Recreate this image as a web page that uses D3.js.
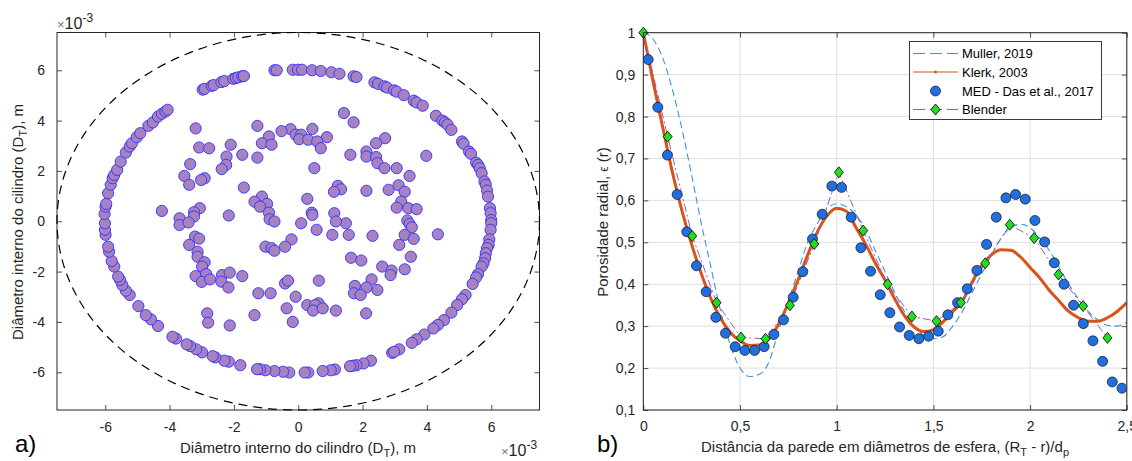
<!DOCTYPE html>
<html><head><meta charset="utf-8">
<script src="https://cdn.jsdelivr.net/npm/d3@7"></script>
<style>
html,body{margin:0;padding:0;background:#fff;}
svg{display:block;font-family:"Liberation Sans",Arial,Helvetica,sans-serif;}
</style></head>
<body>
<svg id="chart" width="1132" height="461"></svg>
<script>
// ---------------- DATA : panel a) (units of 1e-3 m) ----------------
const ringX = [-0.74,-0.67,-0.17,-0.01,0.12,0.43,0.70,1.03,1.28,1.72,1.81,
 -2.97,-2.91,-2.69,-2.63,-2.39,-2.30,-2.02,-1.94,-1.86,-1.74,-1.69,
 2.37,2.48,2.68,2.76,2.98,3.06,3.28,3.59,3.68,3.87,
 4.28,4.48,4.56,4.64,4.76,
 5.09,5.14,5.31,5.37,5.53,5.59,5.64,5.70,5.79,5.83,5.87,5.90,5.96,5.98,6.00,6.00,
 5.98,5.94,5.92,5.87,5.83,5.81,5.76,5.70,5.59,5.53,5.42,5.20,5.09,4.94,4.76,4.53,4.34,4.20,3.92,3.68,3.53,3.14,2.92,2.98,
 2.26,2.03,1.81,1.70,1.61,1.14,1.01,0.76,0.31,0.20,
 -0.28,-0.47,-0.74,-1.02,-1.19,-1.28,-1.80,-2.16,-2.30,-2.58,-2.66,-2.99,-3.17,-3.36,-3.47,-3.80,-3.91,
 -4.36,-4.58,-4.74,-4.97,-5.24,-5.36,-5.47,-5.54,-5.60,-5.72,-5.80,-5.88,-5.91,-5.99,-6.01,-6.01,-6.02,-5.99,-5.97,
 -5.91,-5.83,-5.77,-5.72,-5.63,-5.52,-5.36,-5.24,-5.17,-5.02,-4.91,-4.66,-4.52,-4.36,-4.24,-4.13,-4.06];
const ringY = [6.00,6.00,6.02,6.02,6.02,6.00,5.97,5.92,5.86,5.76,5.73,
 5.23,5.26,5.38,5.41,5.53,5.57,5.66,5.69,5.72,5.76,5.77,
 5.52,5.46,5.36,5.31,5.20,5.15,5.01,4.79,4.72,4.59,
 4.19,4.00,3.93,3.84,3.63,
 3.17,3.08,2.77,2.68,2.33,2.24,2.11,1.91,1.58,1.45,1.22,0.98,0.52,0.32,0.05,-0.08,
 -0.34,-0.72,-0.94,-1.07,-1.27,-1.47,-1.67,-1.80,-2.10,-2.23,-2.49,-2.93,-3.10,-3.33,-3.63,-3.93,-4.12,-4.26,-4.50,-4.69,-4.83,-5.09,-5.23,-5.19,
 -5.54,-5.65,-5.72,-5.74,-5.76,-5.89,-5.92,-5.95,-6.01,-6.01,
 -6.01,-5.98,-5.95,-5.92,-5.88,-5.88,-5.72,-5.58,-5.54,-5.41,-5.36,-5.21,-5.09,-4.96,-4.89,-4.66,-4.59,
 -4.16,-3.90,-3.73,-3.37,-2.93,-2.76,-2.53,-2.33,-2.20,-1.80,-1.58,-1.21,-1.01,-0.54,-0.34,-0.08,0.29,0.58,0.69,
 1.11,1.45,1.71,1.84,2.04,2.37,2.73,2.97,3.10,3.34,3.50,3.79,3.93,4.16,4.27,4.36,4.43];
const innerX = [1.42,1.72,-1.27,-3.19,0.44,-0.24,-0.52,-0.91,-0.08,0.09,0.89,2.70,0.03,0.31,0.59,-1.13,-0.83,2.42,-2.10,-3.08,-2.77,0.70,2.12,-1.74,-1.27,1.62,3.98,-2.23,2.12,2.42,
 -3.36,2.46,-2.24,-2.38,0.50,2.68,3.06,-3.54,3.46,-2.91,-3.02,-3.39,3.12,-1.69,1.23,1.33,1.11,2.81,2.12,3.31,
 0.28,-1.13,-1.36,-0.97,3.20,-1.19,-4.24,-3.06,-3.24,3.42,3.06,3.68,-0.91,-3.69,-2.16,0.42,0.44,1.12,-3.24,-0.89,
 -0.74,-3.69,-3.41,0.09,1.48,1.17,3.39,3.46,3.53,0.57,4.34,1.06,1.57,2.31,-3.21,-3.08,-0.21,3.31,3.59,3.14,
 -3.39,-1.02,-0.83,-0.74,-0.41,-3.13,-3.13,1.64,1.96,3.50,-2.91,-2.99,2.61,2.90,2.87,3.31,-3.19,-2.86,-3.00,-2.74,
 -2.37,-2.13,-1.74,-2.39,-2.17,-0.41,-0.32,0.64,2.28,2.46,1.76,2.12,1.73,1.94,-1.24,-0.86,-0.08,0.28,0.63,0.53,
 0.46,0.76,-0.36,1.17,-1.36,-2.83,-2.80,-2.13,-0.17,2.11];
const innerY = [4.30,3.93,3.79,3.69,3.67,3.66,3.58,3.37,3.44,3.44,3.34,3.30,3.26,3.24,3.17,3.10,3.04,3.10,3.04,2.93,2.90,2.90,2.77,2.64,2.53,2.64,2.60,2.57,2.57,2.55,
 2.27,2.31,2.24,2.07,2.11,2.11,2.11,1.80,1.80,1.71,1.64,1.45,1.43,1.34,1.41,1.27,1.17,1.25,1.21,1.17,
 0.89,0.98,0.78,0.69,0.78,0.58,0.41,0.52,0.36,0.52,0.54,0.48,0.34,0.12,0.23,0.34,0.25,0.32,0.19,0.08,
 -0.01,-0.15,-0.05,-0.08,-0.08,-0.01,0.03,-0.11,-0.24,-0.34,-0.52,-0.54,-0.54,-0.58,-0.61,-0.69,-0.72,-0.54,-0.70,-0.94,
 -0.94,-1.01,-1.07,-1.17,-1.01,-1.21,-1.41,-1.45,-1.56,-1.41,-1.63,-1.80,-1.80,-1.96,-2.14,-1.91,-2.18,-2.10,-2.41,-2.31,
 -2.14,-2.04,-2.18,-2.40,-2.63,-2.47,-2.36,-2.36,-2.31,-2.73,-2.57,-2.63,-2.86,-2.93,-2.86,-2.86,-3.00,-3.33,-3.26,-3.33,
 -3.55,-3.46,-3.46,-3.55,-3.73,-3.66,-4.03,-4.14,-4.00,-3.66];
const wallRadius = 7.5;
const ticksA = [-6,-4,-2,0,2,4,6];

// ---------------- DATA : panel b) ----------------
const medX = [0.025,0.075,0.125,0.175,0.225,0.275,0.325,0.375,0.425,0.475,0.525,0.575,0.625,0.675,0.725,0.775,0.825,0.875,0.925,0.975,
 1.025,1.075,1.125,1.175,1.225,1.275,1.325,1.375,1.425,1.475,1.525,1.575,1.625,1.675,1.725,1.775,1.825,1.875,1.925,1.975,
 2.025,2.075,2.125,2.175,2.225,2.275,2.325,2.375,2.425,2.475];
const medY = [0.936,0.822,0.708,0.614,0.525,0.444,0.382,0.321,0.283,0.251,0.242,0.242,0.251,0.280,0.315,0.369,0.430,0.508,0.567,0.634,
 0.631,0.560,0.487,0.431,0.375,0.332,0.298,0.278,0.270,0.276,0.288,0.327,0.356,0.389,0.433,0.495,0.560,0.606,0.614,0.603,
 0.552,0.501,0.451,0.400,0.350,0.306,0.265,0.216,0.167,0.152];
const blenderX = [0,0.126,0.253,0.379,0.505,0.632,0.758,0.884,1.011,1.137,1.263,1.389,1.516,1.642,1.768,1.895,2.021,2.147,2.274,2.400];
const blenderY = [1.0,0.752,0.515,0.356,0.273,0.270,0.350,0.496,0.667,0.528,0.400,0.323,0.312,0.356,0.450,0.542,0.510,0.423,0.348,0.272];
const curveX = [0,0.05,0.1,0.15,0.2,0.25,0.3,0.35,0.4,0.45,0.5,0.55,0.6,0.65,0.7,0.75,0.8,0.85,0.9,0.95,
 1.0,1.05,1.1,1.15,1.2,1.25,1.3,1.35,1.4,1.45,1.5,1.55,1.6,1.65,1.7,1.75,1.8,1.85,1.9,1.95,
 2.0,2.05,2.1,2.15,2.2,2.25,2.3,2.35,2.4,2.45,2.5];
const mullerY = [1.0,0.985,0.94,0.865,0.77,0.66,0.545,0.44,0.335,0.255,0.20,0.18,0.185,0.215,0.29,0.36,0.43,0.50,0.545,0.58,
 0.592,0.585,0.565,0.53,0.48,0.43,0.38,0.335,0.30,0.278,0.27,0.275,0.30,0.335,0.38,0.425,0.47,0.51,0.535,0.543,
 0.535,0.51,0.48,0.44,0.40,0.365,0.335,0.315,0.302,0.30,0.31];
const klerkY = [1.0,0.885,0.775,0.668,0.575,0.495,0.425,0.365,0.318,0.285,0.265,0.254,0.255,0.27,0.305,0.355,0.41,0.47,0.525,0.563,
 0.581,0.574,0.535,0.495,0.45,0.41,0.365,0.325,0.298,0.287,0.292,0.31,0.335,0.36,0.405,0.445,0.47,0.482,0.481,0.465,
 0.44,0.415,0.385,0.36,0.335,0.32,0.312,0.312,0.32,0.335,0.356];
const ticksBx = [0,0.5,1,1.5,2,2.5];
const ticksBy = [0.1,0.2,0.3,0.4,0.5,0.6,0.7,0.8,0.9,1];
const legendNames = ["Muller, 2019","Klerk, 2003","MED - Das et al., 2017","Blender"];

// ---------------- DRAW ----------------
const svg = d3.select("#chart");
const axisColor = "#262626";
const fmtComma = d => String(d).replace(".", ",");

function styleAxis(g){
  g.selectAll(".domain").remove();
  g.selectAll(".tick line").attr("stroke", axisColor).attr("stroke-width",0.8);
  g.selectAll(".tick text").attr("fill", axisColor).attr("font-size", 14)
    .attr("font-family",'"Liberation Sans",Arial,sans-serif');
}

// ===== panel a =====
const xA = d3.scaleLinear().domain([-7.5,7.5]).range([57,539.5]);
const yA = d3.scaleLinear().domain([-7.5,7.5]).range([410,32.5]);
const gA = svg.append("g");

gA.append("g").attr("transform","translate(0,410)")
  .call(d3.axisBottom(xA).tickValues(ticksA).tickSizeInner(-5).tickSizeOuter(0).tickPadding(12).tickFormat(d=>String(d)))
  .call(styleAxis);
gA.append("g").attr("transform","translate(0,32.5)")
  .call(d3.axisTop(xA).tickValues(ticksA).tickSizeInner(-5).tickSizeOuter(0).tickFormat(""))
  .call(styleAxis);
gA.append("g").attr("transform","translate(57,0)")
  .call(d3.axisLeft(yA).tickValues(ticksA).tickSizeInner(-5).tickSizeOuter(0).tickPadding(12).tickFormat(d=>String(d)))
  .call(styleAxis);
gA.append("g").attr("transform","translate(539.5,0)")
  .call(d3.axisRight(yA).tickValues(ticksA).tickSizeInner(-5).tickSizeOuter(0).tickFormat(""))
  .call(styleAxis);
gA.append("rect").attr("x",57).attr("y",32.5).attr("width",482.5).attr("height",377.5)
  .attr("fill","none").attr("stroke",axisColor).attr("stroke-width",1);

gA.append("ellipse").attr("cx",xA(0)).attr("cy",yA(0))
  .attr("rx",xA(wallRadius)-xA(0)).attr("ry",yA(0)-yA(wallRadius))
  .attr("fill","none").attr("stroke","#000").attr("stroke-width",1.2).attr("stroke-dasharray","9,6");

const ptsA = ringX.map((x,i)=>({x, y:ringY[i]})).concat(innerX.map((x,i)=>({x, y:innerY[i]})));
gA.append("g").selectAll("circle").data(ptsA).join("circle")
  .attr("cx",d=>xA(d.x)).attr("cy",d=>yA(d.y)).attr("r",5.6)
  .attr("fill","#a882c0").attr("stroke","#3030ff").attr("stroke-width",0.9);

// exponent labels
function expLabel(x,y){
  const t = svg.append("text").attr("x",x).attr("y",y).attr("fill",axisColor).attr("font-size",16);
  t.append("tspan").attr("font-size",13).attr("fill","#777").text("×");
  t.append("tspan").text("10");
  t.append("tspan").attr("dy",-7).attr("font-size",12).text("-3");
}
expLabel(57,29);
expLabel(501,456);

svg.append("text").attr("x",298).attr("y",453).attr("text-anchor","middle").attr("font-size",15).attr("fill",axisColor)
  .call(t=>{t.append("tspan").text("Diâmetro interno do cilindro (D");
           t.append("tspan").attr("font-size",11).attr("dy",4).text("T");
           t.append("tspan").attr("dy",-4).text("), m");});
svg.append("text").attr("transform","translate(23,222) rotate(-90)").attr("text-anchor","middle").attr("font-size",15).attr("fill",axisColor)
  .call(t=>{t.append("tspan").text("Diâmetro interno do cilindro (D");
           t.append("tspan").attr("font-size",11).attr("dy",4).text("T");
           t.append("tspan").attr("dy",-4).text("), m");});
svg.append("text").attr("x",15).attr("y",452).attr("font-size",24).attr("fill","#000").text("a)");

// ===== panel b =====
const xB = d3.scaleLinear().domain([0,2.5]).range([643.3,1126.8]);
const yB = d3.scaleLinear().domain([0.1,1]).range([410,32.7]);
const gB = svg.append("g");
svg.append("clipPath").attr("id","clipB").append("rect")
  .attr("x",643.3).attr("y",32.7).attr("width",483.5).attr("height",377.3);

// grid
gB.append("g").selectAll("line.gx").data(ticksBx).join("line")
  .attr("x1",d=>xB(d)).attr("x2",d=>xB(d)).attr("y1",32.7).attr("y2",410)
  .attr("stroke","#dfdfdf").attr("stroke-width",1);
gB.append("g").selectAll("line.gy").data(ticksBy).join("line")
  .attr("y1",d=>yB(d)).attr("y2",d=>yB(d)).attr("x1",643.3).attr("x2",1126.8)
  .attr("stroke","#dfdfdf").attr("stroke-width",1);

gB.append("g").attr("transform","translate(0,410)")
  .call(d3.axisBottom(xB).tickValues(ticksBx).tickSizeInner(-5).tickSizeOuter(0).tickPadding(11).tickFormat(fmtComma))
  .call(styleAxis);
gB.append("g").attr("transform","translate(0,32.7)")
  .call(d3.axisTop(xB).tickValues(ticksBx).tickSizeInner(-5).tickSizeOuter(0).tickFormat(""))
  .call(styleAxis);
gB.append("g").attr("transform","translate(643.3,0)")
  .call(d3.axisLeft(yB).tickValues(ticksBy).tickSizeInner(-5).tickSizeOuter(0).tickPadding(8).tickFormat(fmtComma))
  .call(styleAxis);
gB.append("g").attr("transform","translate(1126.8,0)")
  .call(d3.axisRight(yB).tickValues(ticksBy).tickSizeInner(-5).tickSizeOuter(0).tickFormat(""))
  .call(styleAxis);

const plotB = gB.append("g").attr("clip-path","url(#clipB)");
const lineSmooth = d3.line().x(d=>xB(d[0])).y(d=>yB(d[1])).curve(d3.curveMonotoneX);
const lineLin = d3.line().x(d=>xB(d[0])).y(d=>yB(d[1]));

const mullerC = "#3b93da", klerkC = "#d95319", blenderC = "#9b59b6";
plotB.append("path").attr("d",lineSmooth(curveX.map((x,i)=>[x,mullerY[i]])))
  .attr("fill","none").attr("stroke",mullerC).attr("stroke-width",1.1).attr("stroke-dasharray","7,4");
plotB.append("path").attr("d",lineSmooth(curveX.map((x,i)=>[x,klerkY[i]])))
  .attr("fill","none").attr("stroke",klerkC).attr("stroke-width",3);
plotB.append("path").attr("d",lineLin(blenderX.map((x,i)=>[x,blenderY[i]])))
  .attr("fill","none").attr("stroke",blenderC).attr("stroke-width",1).attr("stroke-dasharray","8,3,2,3");

plotB.append("g").selectAll("circle").data(medX.map((x,i)=>[x,medY[i]])).join("circle")
  .attr("cx",d=>xB(d[0])).attr("cy",d=>yB(d[1])).attr("r",5)
  .attr("fill","#1f6fe0").attr("stroke","#111").attr("stroke-width",0.7);

const diamond = (cx,cy)=>`M${cx},${cy-5.5}L${cx+4.5},${cy}L${cx},${cy+5.5}L${cx-4.5},${cy}Z`;
gB.append("g").selectAll("path").data(blenderX.map((x,i)=>[x,blenderY[i]])).join("path")
  .attr("d",d=>diamond(xB(d[0]),yB(d[1])))
  .attr("fill","#22dd22").attr("stroke","#000").attr("stroke-width",0.8);

gB.append("rect").attr("x",643.3).attr("y",32.7).attr("width",483.5).attr("height",377.3)
  .attr("fill","none").attr("stroke",axisColor).attr("stroke-width",1);

// legend
const lg = gB.append("g");
lg.append("rect").attr("x",909.5).attr("y",41.5).attr("width",192).attr("height",78)
  .attr("fill","#fff").attr("stroke","#262626").attr("stroke-width",0.9);
const rowY = [53.5,72,91,109.5];
const lx0 = 913, lx1 = 958, ltx = 962;
lg.append("line").attr("x1",lx0).attr("x2",lx1).attr("y1",rowY[0]).attr("y2",rowY[0])
  .attr("stroke",mullerC).attr("stroke-width",1.1).attr("stroke-dasharray","12,5");
lg.append("line").attr("x1",lx0).attr("x2",lx1).attr("y1",rowY[1]).attr("y2",rowY[1])
  .attr("stroke",klerkC).attr("stroke-width",1.2);
lg.append("circle").attr("cx",(lx0+lx1)/2).attr("cy",rowY[1]).attr("r",1.5).attr("fill",klerkC);
lg.append("circle").attr("cx",(lx0+lx1)/2).attr("cy",rowY[2]).attr("r",5)
  .attr("fill","#1f6fe0").attr("stroke","#111").attr("stroke-width",0.7);
lg.append("line").attr("x1",lx0).attr("x2",lx1).attr("y1",rowY[3]).attr("y2",rowY[3])
  .attr("stroke",blenderC).attr("stroke-width",1.1).attr("stroke-dasharray","12,5");
lg.append("path").attr("d",diamond((lx0+lx1)/2,rowY[3])).attr("fill","#22dd22").attr("stroke","#000").attr("stroke-width",0.8);
lg.selectAll("text").data(legendNames).join("text")
  .attr("x",ltx).attr("y",(d,i)=>rowY[i]+4.5).attr("font-size",13).attr("fill","#000").text(d=>d);

// labels
svg.append("text").attr("x",885).attr("y",452).attr("text-anchor","middle").attr("font-size",15).attr("fill",axisColor)
  .call(t=>{t.append("tspan").text("Distância da parede em diâmetros de esfera, (R");
           t.append("tspan").attr("font-size",11).attr("dy",4).text("T");
           t.append("tspan").attr("dy",-4).text(" - r)/d");
           t.append("tspan").attr("font-size",11).attr("dy",4).text("p");});
svg.append("text").attr("transform","translate(608,222) rotate(-90)").attr("text-anchor","middle").attr("font-size",15).attr("fill",axisColor)
  .call(t=>{t.append("tspan").text("Porosidade radial, ");
           t.append("tspan").attr("font-size",12).text("ϵ");
           t.append("tspan").text(" (r)");});
svg.append("text").attr("x",597).attr("y",452).attr("font-size",24).attr("fill","#000").text("b)");
</script>
</body></html>
